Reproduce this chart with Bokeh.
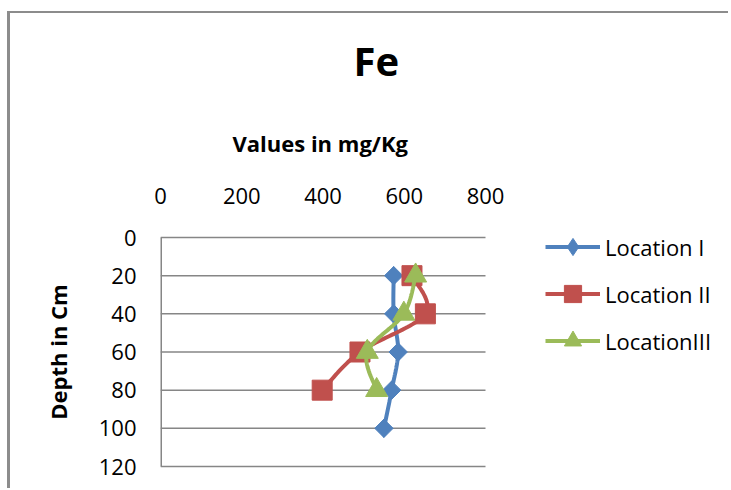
import numpy as np
from bokeh.plotting import figure
from bokeh.models import (Range1d, FixedTicker, Legend, LegendItem, ColumnDataSource, Title)
from bokeh.embed import file_html
from bokeh.resources import INLINE

# ---- data ----
depth_1 = [20, 40, 60, 80, 100]
loc_1 = [574, 574, 585, 569, 550]
depth_2 = [20, 40, 60, 80]
loc_2 = [619, 652, 491, 398]
depth_3 = [20, 40, 60, 80]
loc_3 = [628, 599, 509, 532]
series_names = ["Location I", "Location II", "LocationIII"]
x_ticks = [0, 200, 400, 600, 800]
y_ticks = [0, 20, 40, 60, 80, 100, 120]

FONT = "Open Sans"
GRAY = "#868686"
COLORS = ["#4F81BD", "#C0504D", "#9BBB59"]

PLOT_W, PLOT_H = 721, 477
PAD = 10                              # frame reaches a little past the grid
BORDER_L, BORDER_T, BORDER_B = 150, 224 - PAD, 24 - PAD
FRAME_W, FRAME_H = 325, 229           # size of the gridded area
X_MAX, Y_MAX = x_ticks[-1], y_ticks[-1]
X_END = X_MAX * (PLOT_W - BORDER_L) / FRAME_W   # frame reaches the right edge
Y_PAD = PAD * Y_MAX / FRAME_H


def smooth(xs, ys, n=30):
    """Excel-like smoothed line: uniform Catmull-Rom computed in pixel space."""
    sx, sy = FRAME_W / X_MAX, FRAME_H / Y_MAX
    P = np.column_stack([np.asarray(xs, float) * sx, np.asarray(ys, float) * sy])
    P = np.vstack([P[0], P, P[-1]])
    out = []
    for i in range(1, len(P) - 2):
        p0, p1, p2, p3 = P[i - 1], P[i], P[i + 1], P[i + 2]
        c1 = p1 + (p2 - p0) / 6.0
        c2 = p2 - (p3 - p1) / 6.0
        t = np.linspace(0, 1, n)[:, None]
        seg = ((1 - t) ** 3) * p1 + 3 * ((1 - t) ** 2) * t * c1 + 3 * (1 - t) * t ** 2 * c2 + t ** 3 * p2
        out.append(seg if i == 1 else seg[1:])
    C = np.vstack(out)
    return C[:, 0] / sx, C[:, 1] / sy


p = figure(width=PLOT_W, height=PLOT_H, x_range=Range1d(0, X_END),
           y_range=Range1d(Y_MAX + Y_PAD, -Y_PAD),
           x_axis_location="above", output_backend="svg", toolbar_location=None,
           min_border_left=BORDER_L, min_border_right=0, min_border_top=BORDER_T,
           min_border_bottom=BORDER_B, title=None)
p.outline_line_color = None
p.background_fill_color = "white"
p.border_fill_color = "white"
# outer chart border (continues past the window on the right and bottom)
p.styles = {"margin-left": "7px", "margin-top": "11px",
            "border-left": "3px solid #8C8C8C", "border-top": "2px solid #8C8C8C"}

# x axis (top)
xa = p.xaxis[0]
xa.ticker = FixedTicker(ticks=x_ticks)
xa.major_label_text_font = FONT
xa.major_label_text_font_size = "22px"
xa.major_label_text_color = "black"
xa.major_label_standoff = 24
xa.axis_line_color = None
xa.major_tick_line_color = None
xa.minor_tick_line_color = None
xa.major_tick_out = 0
xa.major_tick_in = 0
xa.minor_tick_out = 0

# axis title and chart title, placed over the gridded area
t_axis = Title(text="Values in mg/Kg", text_font=FONT, text_font_size="22px",
               text_font_style="bold", text_color="black", align="left",
               offset=72, standoff=54)
p.add_layout(t_axis, "above")
t_main = Title(text="Fe", text_font=FONT, text_font_size="40px",
               text_font_style="bold", text_color="black", align="left",
               offset=193, standoff=22)
p.add_layout(t_main, "above")

# y axis
ya = p.yaxis[0]
ya.ticker = FixedTicker(ticks=y_ticks)
ya.axis_label = "Depth in Cm"
ya.axis_label_text_font = FONT
ya.axis_label_text_font_size = "22px"
ya.axis_label_text_font_style = "bold"
ya.axis_label_text_color = "black"
ya.axis_label_standoff = 23
ya.major_label_text_font = FONT
ya.major_label_text_font_size = "22px"
ya.major_label_text_color = "black"
ya.major_label_standoff = 24
ya.axis_line_color = None
ya.major_tick_line_color = None
ya.minor_tick_line_color = None
ya.major_tick_out = 0
ya.major_tick_in = 0
ya.minor_tick_out = 0

p.xgrid.visible = False
p.ygrid.visible = False
grid_src = ColumnDataSource(dict(x0=[0] * len(y_ticks), x1=[X_MAX] * len(y_ticks),
                                 y=y_ticks))
p.segment(x0="x0", x1="x1", y0="y", y1="y", source=grid_src,
          line_color=GRAY, line_width=1.5)
# vertical axis line over the gridded span only
p.segment(x0=[0], x1=[0], y0=[y_ticks[0]], y1=[y_ticks[-1]],
          line_color=GRAY, line_width=3)

# series: (x, y, plot marker, size, angle, legend marker)
series = [(loc_1, depth_1, "square", 13, np.pi / 4, "diamond"),
          (loc_2, depth_2, "square", 20, 0.0, "square"),
          (loc_3, depth_3, "triangle", 22, 0.0, "triangle")]
items = []
for (xs, ys, marker, size, ang, lg_marker), color, name in zip(series, COLORS, series_names):
    cx, cy = smooth(xs, ys)
    lr = p.line(cx, cy, line_color=color, line_width=4)
    src = ColumnDataSource(dict(x=xs, y=ys))
    rends = [lr]
    if lg_marker != marker:
        # legend shape (hidden under the plotted marker, which it fits inside)
        rends.append(p.scatter("x", "y", source=src, marker=lg_marker, size=18,
                               fill_color=color, line_color=color))
    sr = p.scatter("x", "y", source=src, marker=marker, size=size, angle=ang,
                   fill_color=color, line_color=color)
    if lg_marker == marker:
        rends.append(sr)
    items.append(LegendItem(label=name, renderers=rends))

legend = Legend(items=items, location=(385, 114))
legend.label_text_font = FONT
legend.label_text_font_size = "22px"
legend.label_text_color = "black"
legend.glyph_width = 55
legend.glyph_height = 43
legend.label_standoff = 5
legend.spacing = 4
legend.padding = 0
legend.margin = 0
legend.border_line_color = None
legend.background_fill_alpha = 0
p.add_layout(legend)

open("out.html", "w").write(file_html(p, INLINE))
